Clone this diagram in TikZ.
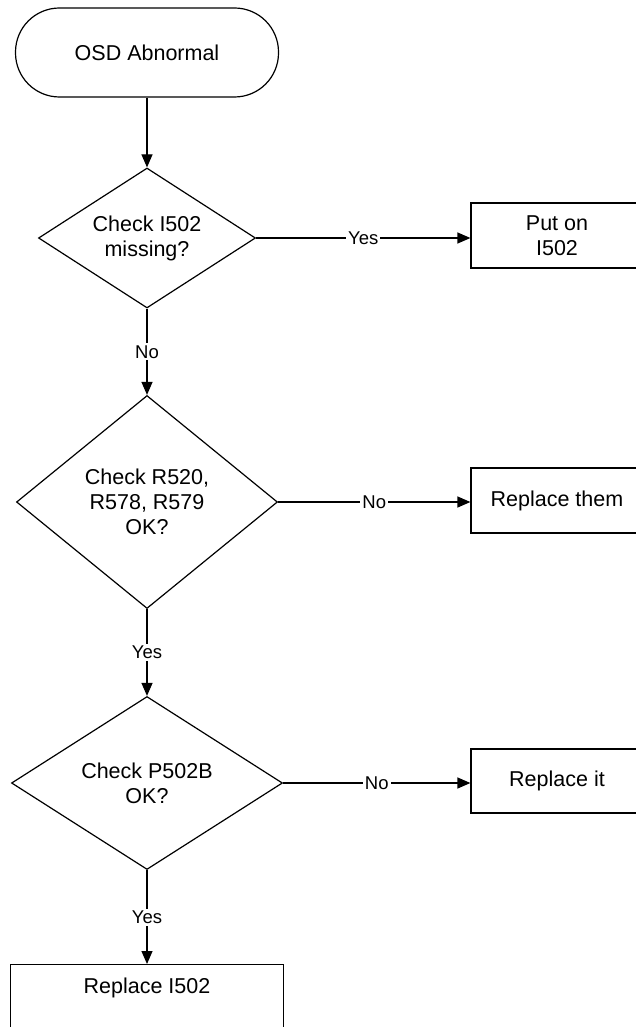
\documentclass[tikz,border=0pt]{standalone}
\usepackage{fontspec}
\setmainfont{Liberation Sans}
\usetikzlibrary{shapes.geometric,arrows.meta}
\begin{document}
\begin{tikzpicture}[x=1pt,y=1pt,
  every node/.style={font=\fontsize{21.5}{25}\selectfont, align=center},
  termst/.style={draw, line width=1.2pt, rounded corners=44pt, minimum width=263pt, minimum height=89pt, inner sep=0pt},
  decst/.style={draw, diamond, line width=1.2pt, inner sep=0pt},
  boxst/.style={draw, rectangle, line width=1.2pt, inner sep=0pt},
  arr/.style={line width=1.2pt, -{Triangle[length=13pt,width=11pt]}},
  lbl/.style={fill=white, inner sep=2pt, font=\fontsize{18.5}{22}\selectfont}]
\useasboundingbox (0,0) rectangle (636,-1027);
\clip (0,0) rectangle (636,-1027);
\fill[white] (0,0) rectangle (636,-1027);
\node[termst] (t) at (147,-52.5) {OSD Abnormal};
\node[decst, shape aspect=1.55, minimum width=217pt, minimum height=140pt] (d1) at (147,-238) {Check I502\\missing?};
\node[decst, shape aspect=1.225, minimum width=261pt, minimum height=213pt] (d2) at (147,-502) {Check R520,\\R578, R579\\OK?};
\node[decst, shape aspect=1.57, minimum width=271pt, minimum height=173pt] (d3) at (147,-783) {Check P502B\\OK?};
\node[boxst, minimum width=172pt, minimum height=65pt] (b1) at (557,-235.5) {Put on\\I502};
\node[boxst, minimum width=172pt, minimum height=65pt] (b2) at (557,-500.5) {Replace them};
\node[boxst, minimum width=172pt, minimum height=64pt] (b3) at (557,-781) {Replace it};
\node[boxst, minimum width=273pt, minimum height=100pt, anchor=north] (b4) at (147,-964) {};
\node (b4t) at ([yshift=-24pt]b4.north) {Replace I502};
\draw[arr] (t.south) -- (d1.north);
\draw[arr] (d1.east) -- node[lbl] {Yes} (d1.east -| b1.west);
\draw[arr] (d1.south) -- node[lbl] {No} (d2.north);
\draw[arr] (d2.east) -- node[lbl] {No} (d2.east -| b2.west);
\draw[arr] (d2.south) -- node[lbl] {Yes} (d3.north);
\draw[arr] (d3.east) -- node[lbl] {No} (d3.east -| b3.west);
\draw[arr] (d3.south) -- node[lbl] {Yes} (b4.north);
\end{tikzpicture}
\end{document}
